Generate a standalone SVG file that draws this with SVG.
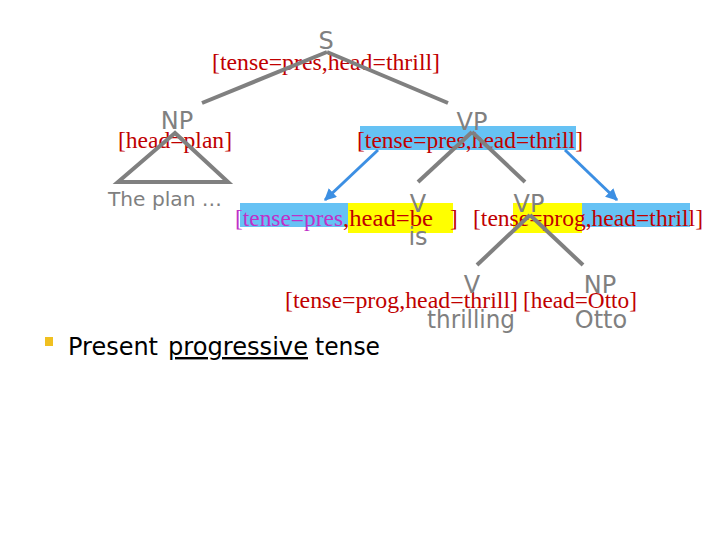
<svg xmlns="http://www.w3.org/2000/svg" width="720" height="540" viewBox="0 0 720 540">
<defs>
<marker id="ah" viewBox="0 0 10 10" refX="9" refY="5" markerWidth="4" markerHeight="4" orient="auto" markerUnits="strokeWidth">
<path d="M0,0 L10,5 L0,10 z" fill="#3c8fe3"/>
</marker>
<style>
.lbl{font-family:"DejaVu Sans",Verdana,sans-serif;font-size:24px;fill:#808080;text-anchor:middle}
.ft{font-family:"Liberation Serif","Times New Roman",serif;font-size:23px;fill:#c00000}
.mg{fill:#c030c8}
.edge{stroke:#808080;stroke-width:4;fill:none;stroke-linecap:butt}
.arr{stroke:#3c8fe3;stroke-width:3;fill:none;marker-end:url(#ah)}
.hb{fill:#66c2f4}
.hy{fill:#ffff00}
.bt{font-family:"DejaVu Sans",Verdana,sans-serif;font-size:24px;fill:#000000}
</style>
</defs>
<rect width="720" height="540" fill="#ffffff"/>

<g id="highlights">
<rect class="hb" x="360" y="126" width="216" height="24"/>
<rect class="hb" x="240" y="203" width="108" height="24"/>
<rect class="hy" x="348" y="203" width="105" height="30"/>
<rect class="hy" x="513" y="203" width="69" height="30"/>
<rect class="hb" x="582" y="203" width="108" height="24"/>
</g>

<g id="features">
<text class="ft" x="212" y="70" textLength="228" lengthAdjust="spacingAndGlyphs">[tense=pres,head=thrill]</text>
<text class="ft" x="118" y="148" textLength="114" lengthAdjust="spacingAndGlyphs">[head=plan]</text>
<text class="ft" x="357" y="148" textLength="226" lengthAdjust="spacingAndGlyphs">[tense=pres,head=thrill]</text>
<text class="ft mg" x="235" y="226" textLength="108" lengthAdjust="spacingAndGlyphs">[tense=pres</text>
<text class="ft" x="343" y="226" textLength="90" lengthAdjust="spacingAndGlyphs">,head=be</text>
<text class="ft" x="450" y="226">]</text>
<text class="ft" x="473" y="226" textLength="230" lengthAdjust="spacingAndGlyphs">[tense=prog,head=thrill]</text>
<text class="ft" x="285" y="308" textLength="233" lengthAdjust="spacingAndGlyphs">[tense=prog,head=thrill]</text>
<text class="ft" x="523" y="308" textLength="114" lengthAdjust="spacingAndGlyphs">[head=Otto]</text>
</g>

<g id="connectors">
<line class="edge" x1="327" y1="52" x2="202" y2="103"/>
<line class="edge" x1="327" y1="52" x2="448" y2="103"/>
<polygon class="edge" points="175,133 118,182 228,182"/>
<line class="edge" x1="472" y1="132" x2="418" y2="182"/>
<line class="edge" x1="472" y1="132" x2="525" y2="182"/>
<line class="edge" x1="530" y1="215" x2="477" y2="265"/>
<line class="edge" x1="530" y1="215" x2="583" y2="265"/>
<line class="arr" x1="378" y1="150" x2="325" y2="200"/>
<line class="arr" x1="565" y1="150" x2="617" y2="200"/>
</g>

<g id="node-S"><text class="lbl" x="326" y="49" font-size="26">S</text></g>
<g id="node-NP"><text class="lbl" x="177" y="129">NP</text></g>
<g id="node-theplan"><text x="108" y="206" font-family="DejaVu Sans,Verdana,sans-serif" font-size="20" fill="#808080" textLength="114" lengthAdjust="spacingAndGlyphs">The plan …</text></g>
<g id="node-VP"><text class="lbl" x="472" y="130">VP</text></g>
<g id="node-V1"><text class="lbl" x="418" y="212">V</text></g>
<g id="node-is"><text class="lbl" x="418" y="245">is</text></g>
<g id="node-VP2"><text class="lbl" x="529" y="212">VP</text></g>
<g id="node-V2"><text class="lbl" x="472" y="293">V</text></g>
<g id="node-thrilling"><text class="lbl" x="471" y="328" textLength="88" lengthAdjust="spacingAndGlyphs">thrilling</text></g>
<g id="node-NP2"><text class="lbl" x="600" y="293">NP</text></g>
<g id="node-Otto"><text class="lbl" x="601" y="328">Otto</text></g>

<g id="bullet">
<rect x="45" y="337" width="8" height="9" fill="#f0c020"/>
<text class="bt" x="68" y="355" textLength="90" lengthAdjust="spacingAndGlyphs">Present</text>
<text class="bt" x="168" y="355" textLength="140" lengthAdjust="spacingAndGlyphs" text-decoration="underline">progressive</text>
<text class="bt" x="315" y="355" textLength="65" lengthAdjust="spacingAndGlyphs">tense</text>
</g>
</svg>
